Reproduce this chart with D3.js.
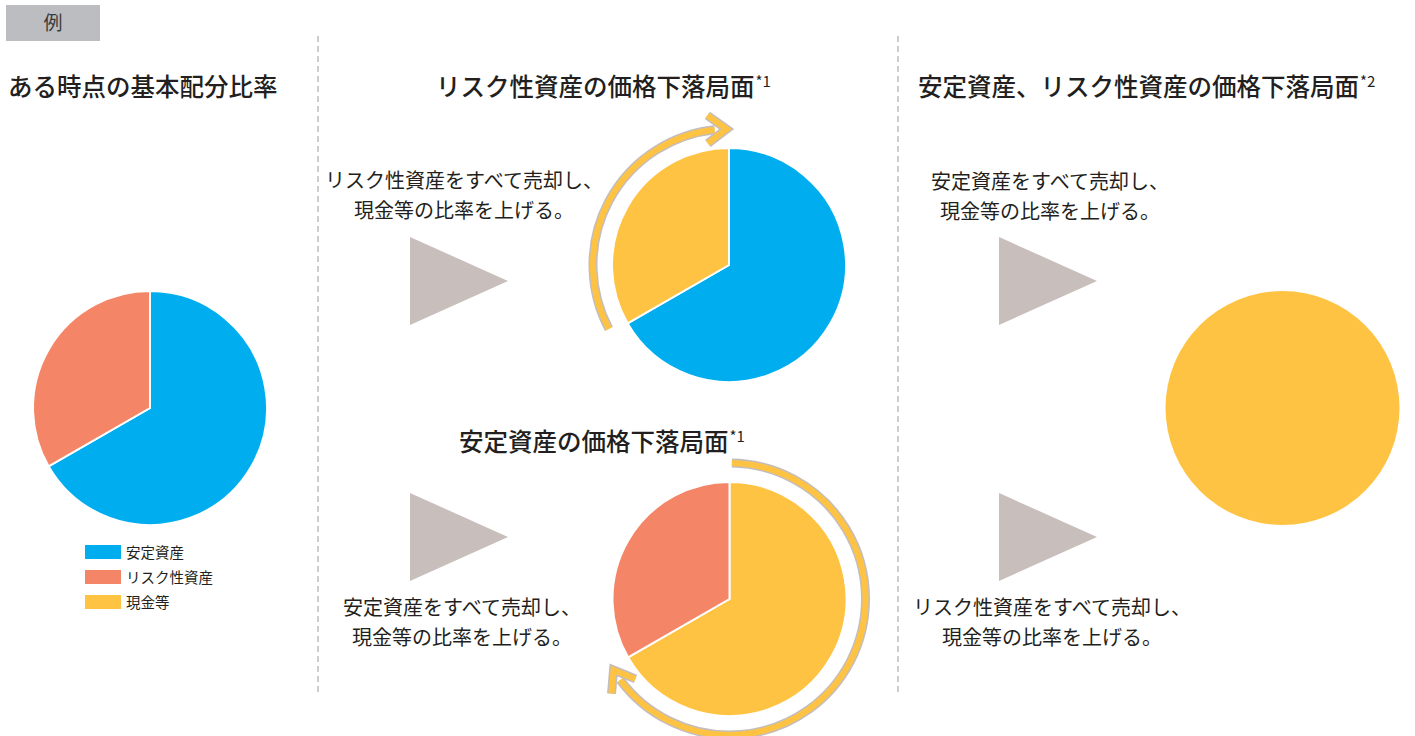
<!DOCTYPE html>
<html><head><meta charset="utf-8">
<script src="https://cdn.jsdelivr.net/npm/d3@7"></script>
<style>
html,body{margin:0;padding:0;background:#fff;}
svg{display:block;font-family:"Noto Sans CJK JP","Noto Sans",sans-serif;}
</style></head>
<body>
<svg id="chart" width="1415" height="736"></svg>
<script>
// ---- data ----
const categories = ['安定資産', 'リスク性資産', '現金等'];
const categoryColors = ['#00AEEF', '#F58567', '#FFC343'];

const pieBaseCats = ['安定資産', 'リスク性資産'];
const pieBaseValues = [66.7, 33.3];
const pieRiskDropCats = ['安定資産', '現金等'];
const pieRiskDropValues = [66.7, 33.3];
const pieSafeDropCats = ['現金等', 'リスク性資産'];
const pieSafeDropValues = [66.7, 33.3];
const pieBothDropCats = ['現金等'];
const pieBothDropValues = [100];

const titles = ['ある時点の基本配分比率', 'リスク性資産の価格下落局面', '安定資産の価格下落局面', '安定資産、リスク性資産の価格下落局面'];
const titleNotes = ['', '*1', '*1', '*2'];
const actionLines1 = ['リスク性資産をすべて売却し、', '現金等の比率を上げる。'];
const actionLines2 = ['安定資産をすべて売却し、', '現金等の比率を上げる。'];
const exampleLabel = '例';

// ---- drawing ----
const svg = d3.select('#chart');
const color = d3.scaleOrdinal().domain(categories).range(categoryColors);
const R = 117;
const textColor = '#231F20';

// example tag
svg.append('rect').attr('x', 6).attr('y', 5).attr('width', 94).attr('height', 36).attr('fill', '#BCBDC0');
svg.append('text').attr('x', 53).attr('y', 30).attr('text-anchor', 'middle')
  .attr('font-size', 19).attr('fill', '#3a3a3a').text(exampleLabel);

// dashed separators
[318, 898].forEach(x => {
  svg.append('line').attr('x1', x).attr('x2', x).attr('y1', 36).attr('y2', 692)
    .attr('stroke', '#BDBDBD').attr('stroke-width', 1.5).attr('stroke-dasharray', '6,4');
});

// titles
function title(x, y, t, note) {
  const tx = svg.append('text').attr('x', x).attr('y', y).attr('font-size', 24.5)
    .attr('font-weight', 500).attr('fill', textColor);
  tx.append('tspan').text(t);
  if (note) tx.append('tspan').attr('font-size', 15).attr('font-weight', 400).attr('dy', -9).attr('dx', 1).text(note);
}
title(8, 96, titles[0], titleNotes[0]);
title(436, 96, titles[1], titleNotes[1]);
title(459, 451, titles[2], titleNotes[2]);
title(918, 96, titles[3], titleNotes[3]);

// action text blocks
function block(cx, y, lines) {
  lines.forEach((l, i) => {
    svg.append('text').attr('x', cx).attr('y', y + i * 30).attr('text-anchor', 'middle')
      .attr('font-size', 20).attr('fill', textColor).text(l);
  });
}
block(464, 188, actionLines1);
block(462, 615, actionLines2);
block(1050, 189, actionLines2);
block(1052, 615, actionLines1);

// triangles
function tri(x, cy) {
  svg.append('path').attr('d', `M${x},${cy - 44}L${x + 98},${cy}L${x},${cy + 44}Z`).attr('fill', '#C8BEBB');
}
tri(410, 281); tri(410, 537); tri(999, 281); tri(999, 537);

// pies
const pieGen = d3.pie().sort(null).value(d => d.v);
const arcGen = d3.arc().innerRadius(0).outerRadius(R);
function drawPie(cx, cy, cats, vals) {
  const data = cats.map((c, i) => ({ c, v: vals[i] }));
  const g = svg.append('g').attr('transform', `translate(${cx},${cy})`);
  g.selectAll('path').data(pieGen(data)).join('path')
    .attr('d', arcGen).attr('fill', d => color(d.data.c))
    .attr('stroke', data.length > 1 ? '#fff' : 'none').attr('stroke-width', 2);
  return g;
}
drawPie(150, 408, pieBaseCats, pieBaseValues);
const g2 = drawPie(729, 265, pieRiskDropCats, pieRiskDropValues);
const g3 = drawPie(729.5, 599, pieSafeDropCats, pieSafeDropValues);
drawPie(1282.5, 408, pieBothDropCats, pieBothDropValues);

// circular arrows (clockwise), angles in degrees from 12 o'clock
function circArrow(g, r, a0, aTip) {
  const rad = Math.PI / 180;
  const aEnd = aTip - (12 / r) / rad;
  const shaft = d3.arc().innerRadius(r).outerRadius(r).startAngle(a0 * rad).endAngle(aEnd * rad)();
  const t = aTip * rad;
  const tip = [r * Math.sin(t), -r * Math.cos(t)];
  const dir = [Math.cos(t), Math.sin(t)];
  const back = 19, side = 14;
  const p1 = [tip[0] - dir[0] * back - dir[1] * side, tip[1] - dir[1] * back + dir[0] * side];
  const p2 = [tip[0] - dir[0] * back + dir[1] * side, tip[1] - dir[1] * back - dir[0] * side];
  const head = `M${p1}L${tip}L${p2}`;
  [['#C4BDBB', 9], ['#FFC343', 6]].forEach(([c, w]) => {
    g.append('path').attr('d', shaft).attr('fill', 'none').attr('stroke', c).attr('stroke-width', w);
    g.append('path').attr('d', head).attr('fill', 'none').attr('stroke', c).attr('stroke-width', w)
      .attr('stroke-linejoin', 'miter');
  });
}
circArrow(g2, 136, -118, -1);
circArrow(g3, 136, 1, 238.5);

// legend
categories.forEach((c, i) => {
  const y = 552 + i * 25;
  svg.append('rect').attr('x', 85).attr('y', y - 7).attr('width', 36).attr('height', 14).attr('fill', color(c));
  svg.append('text').attr('x', 126).attr('y', y + 5.5).attr('font-size', 14.5).attr('fill', textColor).text(c);
});
</script>
</body></html>
